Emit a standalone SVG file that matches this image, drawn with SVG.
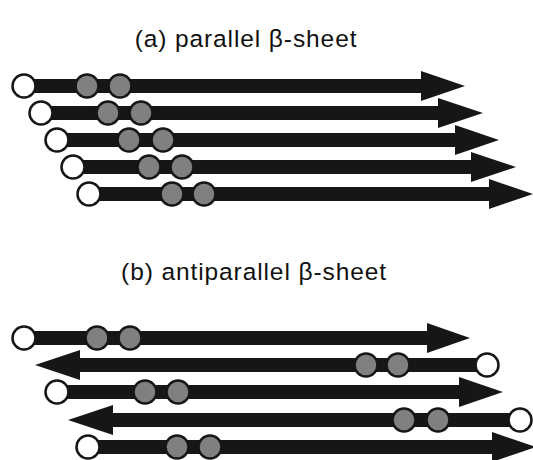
<svg xmlns="http://www.w3.org/2000/svg" width="533" height="460" viewBox="0 0 533 460">
<style>
.bar{fill:#161616}
.w{fill:#ffffff;stroke:#161616;stroke-width:2.5}
.g{fill:#808080;stroke:#161616;stroke-width:2.5}
.t{font-family:"Liberation Sans",Arial,sans-serif;font-size:24.5px;fill:#111;letter-spacing:0.9px}
</style>
<rect width="533" height="460" fill="#ffffff"/>
<text class="t" x="246" y="47" text-anchor="middle">(a) parallel β-sheet</text>
<text class="t" x="254" y="280" text-anchor="middle">(b) antiparallel β-sheet</text>

<g id="parallel">
<g id="p1"><polygon class="bar" points="24,79 421,79 421,71 465,86 421,101 421,93 24,93"/><circle class="w" cx="24" cy="86" r="11.5"/><circle class="g" cx="87" cy="86" r="11.5"/><circle class="g" cx="120" cy="86" r="11.5"/></g>
<g id="p2"><polygon class="bar" points="41,106 438,106 438,98 483,113 438,128 438,120 41,120"/><circle class="w" cx="41" cy="113" r="11.5"/><circle class="g" cx="108" cy="113" r="11.5"/><circle class="g" cx="141" cy="113" r="11.5"/></g>
<g id="p3"><polygon class="bar" points="57,133 455,133 455,125 499,140 455,155 455,147 57,147"/><circle class="w" cx="57" cy="140" r="11.5"/><circle class="g" cx="129" cy="140" r="11.5"/><circle class="g" cx="163" cy="140" r="11.5"/></g>
<g id="p4"><polygon class="bar" points="73,160 471,160 471,152 516,167 471,182 471,174 73,174"/><circle class="w" cx="73" cy="167" r="11.5"/><circle class="g" cx="149" cy="167" r="11.5"/><circle class="g" cx="182" cy="167" r="11.5"/></g>
<g id="p5"><polygon class="bar" points="89,187 489,187 489,179 533,194 489,209 489,201 89,201"/><circle class="w" cx="89" cy="194" r="11.5"/><circle class="g" cx="172" cy="194" r="11.5"/><circle class="g" cx="204" cy="194" r="11.5"/></g>
</g>

<g id="antiparallel">
<g id="a1"><polygon class="bar" points="24,331 427,331 427,323 470,338 427,353 427,345 24,345"/><circle class="w" cx="24" cy="338" r="11.5"/><circle class="g" cx="97" cy="338" r="11.5"/><circle class="g" cx="130" cy="338" r="11.5"/></g>
<g id="a2"><polygon class="bar" points="487,358 80,358 80,350 35,365 80,380 80,372 487,372"/><circle class="w" cx="487" cy="365" r="11.5"/><circle class="g" cx="366" cy="365" r="11.5"/><circle class="g" cx="398" cy="365" r="11.5"/></g>
<g id="a3"><polygon class="bar" points="57,385 459,385 459,377 503,392 459,407 459,399 57,399"/><circle class="w" cx="57" cy="392" r="11.5"/><circle class="g" cx="145" cy="392" r="11.5"/><circle class="g" cx="178" cy="392" r="11.5"/></g>
<g id="a4"><polygon class="bar" points="520,413 113,413 113,405 68,420 113,435 113,427 520,427"/><circle class="w" cx="520" cy="420" r="11.5"/><circle class="g" cx="404" cy="420" r="11.5"/><circle class="g" cx="438" cy="420" r="11.5"/></g>
<g id="a5"><polygon class="bar" points="88,440 492,440 492,432 536,447 492,462 492,454 88,454"/><circle class="w" cx="88" cy="447" r="11.5"/><circle class="g" cx="177" cy="447" r="11.5"/><circle class="g" cx="210" cy="447" r="11.5"/></g>
</g>
</svg>
